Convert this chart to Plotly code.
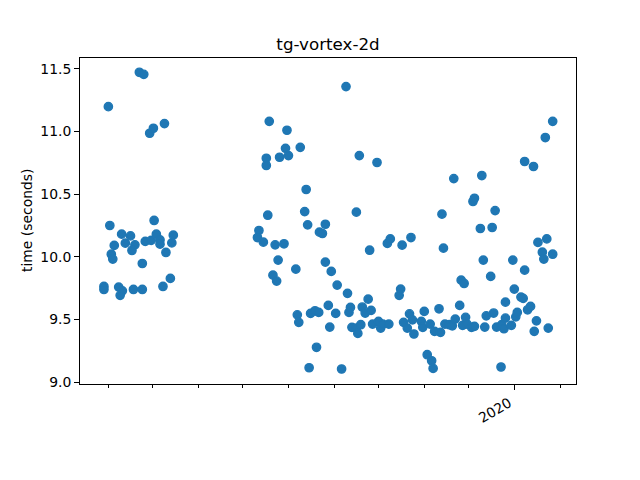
import plotly.graph_objects as go

dates = [
    "2019-03-29", "2019-03-29", "2019-04-01", "2019-04-02", "2019-04-03", "2019-04-04",
    "2019-04-05", "2019-04-08", "2019-04-10 12:00", "2019-04-09", "2019-04-10", "2019-04-12 12:00",
    "2019-04-16", "2019-04-19", "2019-04-17", "2019-04-18", "2019-04-22", "2019-04-25",
    "2019-04-24", "2019-04-24", "2019-04-26", "2019-04-30", "2019-04-29", "2019-05-01 12:00",
    "2019-05-02", "2019-05-03 12:00", "2019-05-06", "2019-05-06", "2019-05-09", "2019-05-08",
    "2019-05-10", "2019-05-13", "2019-05-14", "2019-05-15",
    "2019-07-11", "2019-07-12", "2019-07-15", "2019-07-17", "2019-07-17", "2019-07-18",
    "2019-07-19", "2019-07-21 12:00", "2019-07-23", "2019-07-24", "2019-07-25", "2019-07-26",
    "2019-07-29", "2019-07-30", "2019-07-31", "2019-08-01",
    "2019-08-06", "2019-08-07", "2019-08-08", "2019-08-09", "2019-08-12", "2019-08-13",
    "2019-08-14", "2019-08-15", "2019-08-16", "2019-08-19", "2019-08-20", "2019-08-21 12:00",
    "2019-08-22", "2019-08-24", "2019-08-26", "2019-08-26", "2019-08-28", "2019-08-29",
    "2019-08-30",
    "2019-09-02", "2019-09-03", "2019-09-06", "2019-09-09", "2019-09-10", "2019-09-11",
    "2019-09-12", "2019-09-13", "2019-09-16", "2019-09-16", "2019-09-17", "2019-09-18",
    "2019-09-19", "2019-09-20", "2019-09-22", "2019-09-24", "2019-09-25", "2019-09-26",
    "2019-09-27", "2019-09-30",
    "2019-10-01", "2019-10-02 12:00", "2019-10-04", "2019-10-08", "2019-10-07", "2019-10-09",
    "2019-10-16", "2019-10-15", "2019-10-17", "2019-10-18", "2019-10-20 12:00", "2019-10-22",
    "2019-10-23", "2019-10-24", "2019-10-25",
    "2019-10-30", "2019-10-31", "2019-11-01", "2019-11-03", "2019-11-06", "2019-11-07",
    "2019-11-05", "2019-11-08", "2019-11-11", "2019-11-12", "2019-11-13", "2019-11-14",
    "2019-11-15", "2019-11-18", "2019-11-20", "2019-11-21", "2019-11-22", "2019-11-25",
    "2019-11-26", "2019-11-27", "2019-11-28", "2019-11-29", "2019-11-30",
    "2019-12-03", "2019-12-04", "2019-12-05", "2019-12-05", "2019-12-09", "2019-12-10",
    "2019-12-11", "2019-12-12", "2019-12-13", "2019-12-16", "2019-12-17", "2019-12-18",
    "2019-12-19", "2019-12-20", "2019-12-23", "2019-12-23 12:00", "2019-12-25", "2019-12-26",
    "2019-12-26", "2019-12-30", "2019-12-31",
    "2020-01-01", "2020-01-02", "2020-01-03", "2020-01-05 12:00", "2020-01-07", "2020-01-08",
    "2020-01-08", "2020-01-10", "2020-01-12", "2020-01-14", "2020-01-14 12:00", "2020-01-16",
    "2020-01-17", "2020-01-20", "2020-01-21", "2020-01-22", "2020-01-23", "2020-01-24",
    "2020-01-27", "2020-01-27",
]

times = [
    9.764, 9.740, 11.197, 10.250, 10.021, 9.982,
    10.091, 9.759, 9.729, 9.693, 10.181, 10.109,
    10.167, 10.096, 10.051, 9.740, 11.471, 11.455,
    9.740, 9.947, 10.123, 10.131, 10.985, 11.025,
    10.290, 10.181, 10.135, 10.101, 11.062, 9.764,
    10.035, 9.828, 10.111, 10.173,
    10.154, 10.210, 10.117, 10.728, 10.786, 10.332,
    11.080, 9.854, 10.096, 9.807, 9.974, 10.794,
    10.104, 10.865, 11.009, 10.807,
    9.902, 9.538, 9.478, 10.873, 10.361, 10.537,
    10.255, 9.116, 9.549, 9.570, 9.279, 9.557,
    10.197, 10.186, 9.958, 10.260, 9.613, 9.440,
    9.884,
    9.549, 9.775, 9.106, 11.357, 9.709, 9.557,
    9.597, 9.438, 10.356, 9.432, 9.390, 10.807,
    9.459, 9.600, 9.552, 9.663, 10.053, 9.573,
    9.464, 10.752,
    9.486, 9.432, 9.464, 9.464, 10.107, 10.143,
    9.743, 9.693, 10.093, 9.478, 9.432, 9.546,
    10.154, 9.498, 9.385,
    9.486, 9.438, 9.565, 9.220, 9.172, 9.111,
    9.464, 9.406, 9.586, 9.398, 10.340, 10.069,
    9.464, 9.459, 9.450, 10.624, 9.504, 9.613,
    9.814, 9.454, 9.788, 9.518, 9.464,
    9.438, 10.441, 10.467, 9.446, 10.226, 10.648,
    9.974, 9.440, 9.530, 9.844, 10.234, 9.552,
    10.369, 9.440, 9.122, 9.459, 9.427, 9.512,
    9.639, 9.454, 9.974,
    9.743, 9.522, 9.557, 9.679, 9.669, 9.894,
    10.760, 9.578, 9.605, 10.720, 9.406, 9.490,
    10.115, 10.037, 9.982, 10.951, 10.143, 9.432,
    10.021, 11.080,
]

title_text = "tg-vortex-2d"
y_label = "time (seconds)"
y_tick_vals = [9.0, 9.5, 10.0, 10.5, 11.0, 11.5]
y_tick_text = ["9.0", "9.5", "10.0", "10.5", "11.0", "11.5"]
x_tick_vals = ["2020-01-01"]
x_tick_text = ["2020"]

BLUE = "#1f77b4"
FONT = "DejaVu Sans"

fig = go.Figure()
fig.add_trace(go.Scatter(
    x=dates, y=times, mode="markers",
    marker=dict(color=BLUE, size=8.3, line=dict(color=BLUE, width=1.4)),
    hoverinfo="skip",
))

fig.update_layout(
    width=640, height=480,
    margin=dict(l=80, r=64, t=58, b=96, pad=0),
    paper_bgcolor="white", plot_bgcolor="white",
    showlegend=False,
    font=dict(family=FONT, size=13.9, color="black"),
    title=dict(text=title_text, x=0.5, xref="paper", xanchor="center",
               y=1 - 44 / 480, yref="container", yanchor="middle",
               font=dict(family=FONT, size=16.7, color="black")),
)

fig.update_xaxes(
    type="date",
    range=["2019-03-12 19:00", "2020-02-11 19:00"],
    showgrid=False, zeroline=False,
    showline=True, mirror=True, linecolor="black", linewidth=1.1,
    tickmode="array", tickvals=x_tick_vals, ticktext=x_tick_text,
    ticks="outside", ticklen=4.9, tickwidth=1.1, tickcolor="black",
    tickangle=-30, ticklabelshift=-5,
    tickfont=dict(family=FONT, size=13.9, color="black"),
    minor=dict(ticks="outside", ticklen=2.8, tickwidth=1.0, tickcolor="black",
               dtick="M1", tick0="2019-01-01", showgrid=False),
)

fig.update_yaxes(
    range=[8.9865, 11.585],
    showgrid=False, zeroline=False,
    showline=True, mirror=True, linecolor="black", linewidth=1.1,
    tickmode="array", tickvals=y_tick_vals, ticktext=y_tick_text,
    ticks="outside", ticklen=4.9, tickwidth=1.1, tickcolor="black",
    tickfont=dict(family=FONT, size=13.9, color="black"),
)

fig.add_annotation(
    text=y_label, textangle=-90, showarrow=False,
    xref="paper", yref="paper", x=(27 - 80) / 496, y=0.5,
    xanchor="center", yanchor="middle",
    font=dict(family=FONT, size=13.9, color="black"),
)

fig.write_html("out.html", config={"displayModeBar": False},
               post_script="document.body.style.margin='0';document.body.style.overflow='hidden';")
